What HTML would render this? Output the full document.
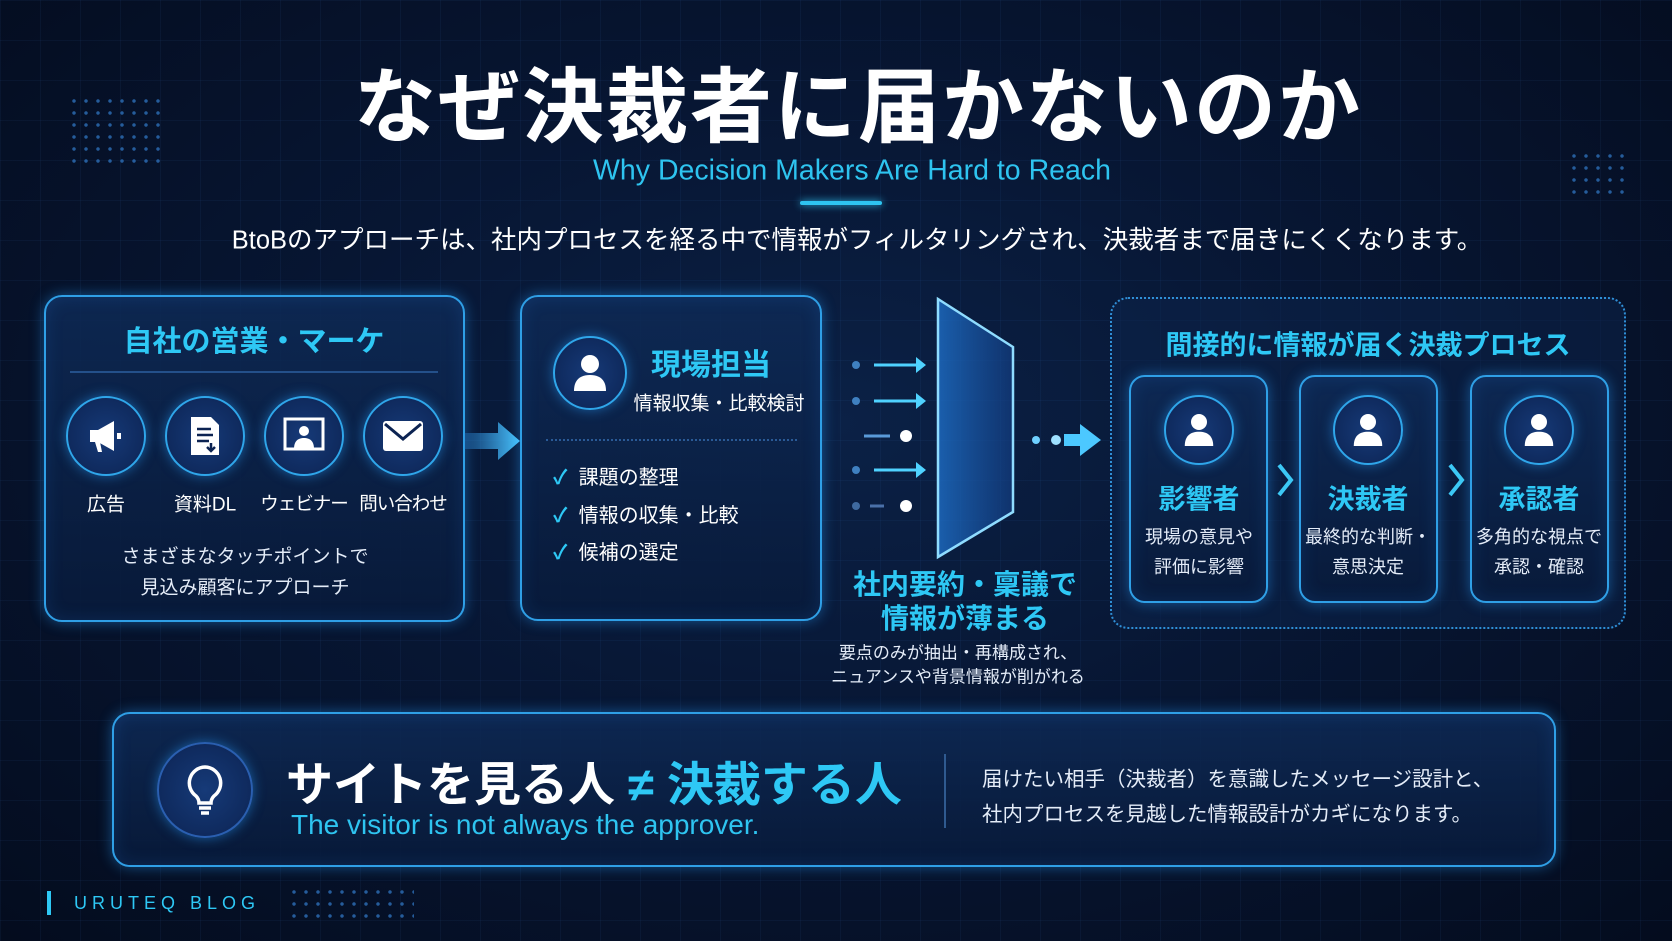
<!DOCTYPE html>
<html><head><meta charset="utf-8"><style>
*{margin:0;padding:0;box-sizing:border-box}
body{width:1672px;height:941px;overflow:hidden;background:#050f24;font-family:"Liberation Sans","Noto Sans CJK JP",sans-serif;color:#fff;position:relative}
.bg{position:absolute;inset:0;background:radial-gradient(ellipse at 50% 45%,#0b2146 0%,#071633 45%,#040c1e 100%)}
.grid{position:absolute;inset:0;background-image:linear-gradient(rgba(60,120,200,.07) 1px,transparent 1px),linear-gradient(90deg,rgba(60,120,200,.07) 1px,transparent 1px);background-size:40px 40px}
.a{position:absolute}
.c{position:absolute;transform:translate(-50%,-50%);white-space:nowrap;text-align:center}
.box{position:absolute;border:2px solid #2f9fe6;border-radius:18px;background:linear-gradient(180deg,rgba(14,42,86,.85),rgba(8,26,58,.9));box-shadow:0 0 14px rgba(40,160,255,.45),inset 0 0 18px rgba(40,140,255,.15)}
.cy{color:#2ec8f5;font-weight:bold}
.circ{position:absolute;border-radius:50%;border:2px solid #2fa6ea;background:radial-gradient(circle,#163a78,#0c2352);box-shadow:0 0 12px rgba(40,160,255,.5);transform:translate(-50%,-50%);display:flex;align-items:center;justify-content:center}
.dots{position:absolute;background-image:radial-gradient(circle,#2d6fb8 1.5px,transparent 2px);background-size:12px 12px;opacity:.8}
</style></head><body>
<div class="bg"></div><div class="grid"></div>
<div class="dots" style="left:68px;top:95px;width:96px;height:72px"></div>
<div class="dots" style="left:1568px;top:150px;width:60px;height:52px"></div>
<div class="dots" style="left:288px;top:886px;width:126px;height:36px"></div>

<div class="c" style="left:858px;top:100px;font-size:82px;font-weight:bold;letter-spacing:2px">なぜ決裁者に届かないのか</div>
<div class="c" style="left:852px;top:171px;font-size:28.5px;color:#2ec4f0">Why Decision Makers Are Hard to Reach</div>
<div class="a" style="left:800px;top:201px;width:82px;height:4px;border-radius:2px;background:#2ec4f0;box-shadow:0 0 8px #2ec4f0"></div>
<div class="c" style="left:857px;top:238px;font-size:25.5px">BtoBのアプローチは、社内プロセスを経る中で情報がフィルタリングされ、決裁者まで届きにくくなります。</div>

<!-- Box1 -->
<div class="box" style="left:44px;top:295px;width:421px;height:327px"></div>
<div class="c cy" style="left:254px;top:339px;font-size:29px">自社の営業・マーケ</div>
<div class="a" style="left:70px;top:371px;width:368px;height:2px;background:#24508a"></div>
<div class="circ" style="left:106px;top:436px;width:80px;height:80px"><svg width="40" height="40" viewBox="0 0 40 40"><path d="M4 14h8l16-9v30l-16-9H4z" fill="#fff"/><path d="M9 26l3 10h4l-2-10z" fill="#fff"/><rect x="31" y="17" width="4" height="6" fill="#fff"/></svg></div>
<div class="circ" style="left:205px;top:436px;width:80px;height:80px"><svg width="36" height="42" viewBox="0 0 36 42"><path d="M4 2h20l8 8v30H4z" fill="#fff"/><path d="M10 14h14M10 20h16M10 26h12" stroke="#0c2352" stroke-width="2.5"/><path d="M24 28v8m-4-4l4 4 4-4" stroke="#0c2352" stroke-width="2.5" fill="none"/></svg></div>
<div class="circ" style="left:304px;top:436px;width:80px;height:80px"><svg width="44" height="40" viewBox="0 0 44 40"><rect x="3" y="3" width="38" height="30" fill="none" stroke="#fff" stroke-width="3"/><circle cx="22" cy="15" r="5" fill="#fff"/><path d="M12 33c0-8 4-11 10-11s10 3 10 11z" fill="#fff"/></svg></div>
<div class="circ" style="left:403px;top:436px;width:80px;height:80px"><svg width="42" height="32" viewBox="0 0 42 32"><rect x="1" y="1" width="40" height="30" rx="3" fill="#fff"/><path d="M3 4l18 15 18-15" stroke="#0c2352" stroke-width="3" fill="none"/></svg></div>
<div class="c" style="left:106px;top:503px;font-size:19px">広告</div>
<div class="c" style="left:205px;top:503px;font-size:19px">資料DL</div>
<div class="c" style="left:304px;top:503px;font-size:18.5px;letter-spacing:-1px">ウェビナー</div>
<div class="c" style="left:403px;top:503px;font-size:18.5px;letter-spacing:-1px">問い合わせ</div>
<div class="c" style="left:245px;top:555px;font-size:19px;color:#e4ecf8">さまざまなタッチポイントで</div>
<div class="c" style="left:245px;top:586px;font-size:19px;color:#e4ecf8">見込み顧客にアプローチ</div>

<svg class="a" style="left:464px;top:420px" width="60" height="42"><defs><linearGradient id="g1"><stop offset="0" stop-color="#2a8be0" stop-opacity=".3"/><stop offset="1" stop-color="#4cc8ff"/></linearGradient></defs><path d="M0 13h34V2l22 19-22 19V29H0z" fill="url(#g1)"/></svg>

<!-- Box2 -->
<div class="box" style="left:520px;top:295px;width:302px;height:326px"></div>
<div class="circ" style="left:590px;top:373px;width:74px;height:74px"><svg width="36" height="40" viewBox="0 0 36 40"><circle cx="18" cy="11" r="9" fill="#fff"/><path d="M2 38c0-12 7-16 16-16s16 4 16 16z" fill="#fff"/></svg></div>
<div class="c cy" style="left:711px;top:362px;font-size:30px">現場担当</div>
<div class="c" style="left:719px;top:402px;font-size:19px">情報収集・比較検討</div>
<div class="a" style="left:546px;top:439px;width:251px;border-top:2px dotted #2a5a96"></div>
<div class="a" style="left:553px;top:460px;font-size:20px;line-height:37.5px"><span style="color:#2ec8f5;font-weight:bold">✓</span>&nbsp; 課題の整理<br><span style="color:#2ec8f5;font-weight:bold">✓</span>&nbsp; 情報の収集・比較<br><span style="color:#2ec8f5;font-weight:bold">✓</span>&nbsp; 候補の選定</div>

<!-- filter -->
<svg class="a" style="left:840px;top:290px" width="280" height="280">
<g fill="#4fd2ff" stroke="#4fd2ff" stroke-width="3">
<circle cx="16" cy="75" r="4" fill="#3f80c0" stroke="none"/><path d="M34 75h44" /><path d="M76 67l10 8-10 8z" stroke="none"/>
<circle cx="16" cy="111" r="4" fill="#3f80c0" stroke="none"/><path d="M34 111h44"/><path d="M76 103l10 8-10 8z" stroke="none"/>
<path d="M24 146h26" stroke="#5a9ad8"/><circle cx="66" cy="146" r="6" fill="#fff" stroke="none"/>
<circle cx="16" cy="180" r="4" fill="#3f80c0" stroke="none"/><path d="M34 180h44"/><path d="M76 172l10 8-10 8z" stroke="none"/>
<circle cx="16" cy="216" r="4" fill="#3f6aa0" stroke="none"/><path d="M30 216h14" stroke="#4a70a8"/><circle cx="66" cy="216" r="6" fill="#fff" stroke="none"/>
</g>
<defs><linearGradient id="pg" x1="0" x2="1"><stop offset="0" stop-color="#1e6fc8" stop-opacity=".8"/><stop offset="1" stop-color="#123c80" stop-opacity=".7"/></linearGradient></defs>
<path d="M98 9L173 57V222L98 267Z" fill="url(#pg)" stroke="#8fdcff" stroke-width="2.5"/>
<circle cx="196" cy="150" r="4" fill="#6fd0ff"/><circle cx="216" cy="150" r="5" fill="#9fe0ff"/>
<path d="M224 144h16v-10l21 16-21 16v-10h-16z" fill="#4cc8ff"/>
</svg>
<div class="c cy" style="left:965px;top:583px;font-size:28px">社内要約・稟議で</div>
<div class="c cy" style="left:965px;top:617px;font-size:28px">情報が薄まる</div>
<div class="c" style="left:958px;top:651px;font-size:17px;color:#e4ecf8">要点のみが抽出・再構成され、</div>
<div class="c" style="left:958px;top:675px;font-size:17px;color:#e4ecf8">ニュアンスや背景情報が削がれる</div>

<!-- right -->
<div class="a" style="left:1110px;top:297px;width:516px;height:332px;border:2px dotted #2f8fd6;border-radius:18px;background:rgba(12,36,76,.5)"></div>
<div class="c cy" style="left:1368px;top:343px;font-size:27px">間接的に情報が届く決裁プロセス</div>
<div class="box" style="left:1129px;top:375px;width:139px;height:228px;border-radius:16px"></div>
<div class="box" style="left:1299px;top:375px;width:139px;height:228px;border-radius:16px"></div>
<div class="box" style="left:1470px;top:375px;width:139px;height:228px;border-radius:16px"></div>
<div class="circ" style="left:1199px;top:430px;width:70px;height:70px"><svg width="32" height="36" viewBox="0 0 36 40"><circle cx="18" cy="11" r="9" fill="#fff"/><path d="M2 38c0-12 7-16 16-16s16 4 16 16z" fill="#fff"/></svg></div>
<div class="circ" style="left:1368px;top:430px;width:70px;height:70px"><svg width="32" height="36" viewBox="0 0 36 40"><circle cx="18" cy="11" r="9" fill="#fff"/><path d="M2 38c0-12 7-16 16-16s16 4 16 16z" fill="#fff"/></svg></div>
<div class="circ" style="left:1539px;top:430px;width:70px;height:70px"><svg width="32" height="36" viewBox="0 0 36 40"><circle cx="18" cy="11" r="9" fill="#fff"/><path d="M2 38c0-12 7-16 16-16s16 4 16 16z" fill="#fff"/></svg></div>
<div class="c cy" style="left:1199px;top:497px;font-size:27px">影響者</div>
<div class="c cy" style="left:1368px;top:497px;font-size:27px">決裁者</div>
<div class="c cy" style="left:1539px;top:497px;font-size:27px">承認者</div>
<div class="c" style="left:1199px;top:552px;font-size:18px;line-height:30px;color:#e4ecf8">現場の意見や<br>評価に影響</div>
<div class="c" style="left:1368px;top:552px;font-size:18px;line-height:30px;color:#e4ecf8">最終的な判断・<br>意思決定</div>
<div class="c" style="left:1539px;top:552px;font-size:18px;line-height:30px;color:#e4ecf8">多角的な視点で<br>承認・確認</div>
<svg class="a" style="left:1275px;top:462px" width="20" height="36"><path d="M4 3l12 15-12 15" stroke="#3cc8f5" stroke-width="4" fill="none"/></svg>
<svg class="a" style="left:1446px;top:462px" width="20" height="36"><path d="M4 3l12 15-12 15" stroke="#3cc8f5" stroke-width="4" fill="none"/></svg>

<!-- bottom -->
<div class="box" style="left:112px;top:712px;width:1444px;height:155px"></div>
<div class="circ" style="left:205px;top:790px;width:96px;height:96px;border-color:#2a5fb0"><svg width="44" height="52" viewBox="0 0 44 52"><path d="M22 3a16 16 0 0 0-9 29c2 2 3 4 3 7h12c0-3 1-5 3-7A16 16 0 0 0 22 3z" fill="none" stroke="#fff" stroke-width="3.5"/><path d="M16 44h12M18 49h8" stroke="#fff" stroke-width="3.5"/></svg></div>
<div class="a" style="left:286px;top:746px;font-size:47px;font-weight:bold;white-space:nowrap">サイトを見る人 <span style="color:#2ec8f5">≠ 決裁する人</span></div>
<div class="a" style="left:291px;top:809px;font-size:28px;color:#2ec4f0;white-space:nowrap">The visitor is not always the approver.</div>
<div class="a" style="left:944px;top:754px;width:2px;height:74px;background:#2f5a90"></div>
<div class="a" style="left:982px;top:762px;font-size:20.5px;line-height:35px;color:#e4ecf8;white-space:nowrap">届けたい相手（決裁者）を意識したメッセージ設計と、<br>社内プロセスを見越した情報設計がカギになります。</div>

<div class="a" style="left:47px;top:891px;width:4px;height:24px;background:#2ec8f5"></div>
<div class="a" style="left:74px;top:893px;font-size:18px;letter-spacing:5px;color:#2ec8f5">URUTEQ BLOG</div>
</body></html>
